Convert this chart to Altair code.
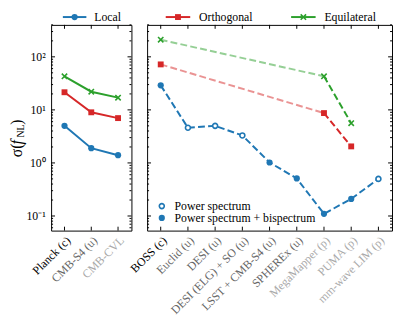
import altair as alt
import pandas as pd

# ---------------- data ----------------
types = ["Local", "Orthogonal", "Equilateral"]
colors = ["#1f77b4", "#d62728", "#2ca02c"]

left_surveys = ["Planck (c)", "CMB-S4 (u)", "CMB-CVL"]
left_local = [5.0, 1.9, 1.4]
left_orth = [21.5, 9.0, 7.0]
left_equil = [43.0, 22.0, 17.0]

right_surveys = ["BOSS (c)", "Euclid (u)", "DESI (u)", "DESI (ELG) + SO (u)",
                 "LSST + CMB-S4 (u)", "SPHEREx (u)", "MegaMapper (p)",
                 "PUMA (p)", "mm-wave LIM (p)"]
right_local = [29.0, 4.6, 5.0, 3.3, 1.02, 0.51, 0.11, 0.21, 0.5]
right_local_bispec = [True, False, False, False, True, True, True, True, False]

ng_surveys = ["BOSS (c)", "MegaMapper (p)", "PUMA (p)"]
right_orth = [72.0, 8.7, 2.05]
right_equil = [210.0, 43.0, 5.6]

y_major = [0.1, 1, 10, 100]
y_minor = [0.06, 0.07, 0.08, 0.09,
           0.2, 0.3, 0.4, 0.5, 0.6, 0.7, 0.8, 0.9,
           2, 3, 4, 5, 6, 7, 8, 9,
           20, 30, 40, 50, 60, 70, 80, 90,
           200, 300, 400]

top_legend_left = ["Local"]
top_legend_right = ["Orthogonal", "Equilateral"]
bottom_legend = ["Power spectrum", "Power spectrum + bispectrum"]
ylabel_parts = ["σ(", "f", "NL", ")"]

# ---------------- style ----------------
FONT = "Liberation Serif"
BLUE, RED, GREEN = colors
W1, W2, H = 82, 250, 210
XPATH = "M-1,-1L1,1M-1,1L1,-1"
DASH = [7, 3.3]

yscale = alt.Scale(type="log", domain=[0.053, 400])


def xscale(cats):
    return alt.Scale(type="point", domain=cats, padding=0.5)


label_color = {
    "condition": [
        {"test": "datum.label == 'CMB-CVL' || indexof(datum.label, '(p)') >= 0", "value": "#a9a9a9"},
        {"test": "indexof(datum.label, '(u)') >= 0", "value": "#666666"},
    ],
    "value": "#000000",
}

sup = ("datum.value >= 99 ? '10²' : datum.value >= 9 ? '10¹' : "
       "datum.value >= 0.9 ? '10⁰' : '10⁻¹'")

X_AXIS = alt.Axis(orient="bottom", ticks=False, domain=False, grid=False, title=None,
                  labelAngle=-45, labelAlign="right", labelBaseline="top",
                  labelFont=FONT, labelFontSize=12, labelColor=label_color,
                  labelPadding=4)


def xenc(cats):
    return alt.X("survey:N", scale=xscale(cats), axis=X_AXIS)


def yenc(labels):
    ax = alt.Axis(orient="left", values=y_major, ticks=False, domain=False, grid=False,
                  title=None, labels=labels, labelExpr=sup, labelFont=FONT,
                  labelFontSize=12, labelColor="black", labelPadding=6)
    return alt.Y("value:Q", scale=yscale, axis=ax)


def tick_layers(cats, W, labels):
    layers = []
    for vals, size in [(y_major, 4), (y_minor, 2)]:
        d = pd.DataFrame({"value": vals})
        layers.append(alt.Chart(d).mark_rule(color="black", strokeWidth=1).encode(
            y=yenc(labels), x=alt.value(0), x2=alt.value(size)))
        layers.append(alt.Chart(d).mark_rule(color="black", strokeWidth=1).encode(
            y=yenc(labels), x=alt.value(W - size), x2=alt.value(W)))
    d = pd.DataFrame({"survey": cats})
    layers.append(alt.Chart(d).mark_rule(color="black", strokeWidth=1).encode(
        x=xenc(cats), y=alt.value(H - 4), y2=alt.value(H)))
    layers.append(alt.Chart(d).mark_rule(color="black", strokeWidth=1).encode(
        x=xenc(cats), y=alt.value(0), y2=alt.value(4)))
    return layers


cenc = alt.Color("type:N", scale=alt.Scale(domain=types, range=colors), legend=None)

# ---------------- left panel ----------------
ldf = pd.DataFrame({
    "survey": left_surveys * 3,
    "idx": list(range(3)) * 3,
    "type": ["Local"] * 3 + ["Orthogonal"] * 3 + ["Equilateral"] * 3,
    "value": left_local + left_orth + left_equil,
})
LX, LY = xenc(left_surveys), yenc(True)

l_lines = alt.Chart(ldf).mark_line(strokeWidth=2).encode(
    x=LX, y=LY, color=cenc, order=alt.Order("idx:Q"))
l_circ = alt.Chart(ldf).transform_filter("datum.type == 'Local'").mark_point(
    shape="circle", filled=True, size=40, opacity=1, color=BLUE).encode(x=LX, y=LY)
l_sq = alt.Chart(ldf).transform_filter("datum.type == 'Orthogonal'").mark_point(
    shape="square", filled=True, size=36, opacity=1, color=RED).encode(x=LX, y=LY)
l_x = alt.Chart(ldf).transform_filter("datum.type == 'Equilateral'").mark_point(
    shape=XPATH, filled=False, size=30, strokeWidth=1.6, opacity=1, color=GREEN).encode(x=LX, y=LY)

LEG_Y = -8

# top legend (left)
leg_l_df = pd.DataFrame({"t": top_legend_left})
leg_l = [
    alt.Chart(leg_l_df).mark_rule(color=BLUE, strokeWidth=2).encode(
        x=alt.value(12), x2=alt.value(36), y=alt.value(LEG_Y)),
    alt.Chart(leg_l_df).mark_point(shape="circle", filled=True, size=40, opacity=1, color=BLUE).encode(
        x=alt.value(24), y=alt.value(LEG_Y)),
    alt.Chart(leg_l_df).mark_text(font=FONT, fontSize=12, align="left", baseline="middle", color="black").encode(
        text="t:N", x=alt.value(44), y=alt.value(LEG_Y)),
]

# y axis title pieces
ttl_df = pd.DataFrame({"t": ylabel_parts})


def ttl_piece(txt, x, y, size, style="normal"):
    return alt.Chart(ttl_df).transform_filter(f"datum.t == '{txt}'").mark_text(
        font=FONT, fontSize=size, fontStyle=style, angle=270, align="left",
        baseline="middle", color="black").encode(
        text="t:N", x=alt.value(x), y=alt.value(y))


TX = -35
ttl = [
    ttl_piece("σ(", TX, 135, 16),
    ttl_piece("f", TX, 122, 16, "italic"),
    ttl_piece("NL", TX + 4, 115, 10),
    ttl_piece(")", TX, 102, 16),
]

left = alt.layer(
    l_lines, *tick_layers(left_surveys, W1, True), l_circ, l_sq, l_x, *leg_l, *ttl
).properties(width=W1, height=H)

# ---------------- right panel ----------------
rdf = pd.DataFrame({
    "survey": right_surveys,
    "idx": list(range(len(right_surveys))),
    "value": right_local,
    "bispec": right_local_bispec,
})
ndf = pd.DataFrame({
    "survey": ng_surveys * 2,
    "idx": list(range(3)) * 2,
    "type": ["Orthogonal"] * 3 + ["Equilateral"] * 3,
    "value": right_orth + right_equil,
})
RX, RY = xenc(right_surveys), yenc(False)

r_faded = alt.Chart(ndf).transform_filter("datum.idx <= 1").mark_line(
    strokeWidth=2, strokeDash=DASH, opacity=0.5).encode(
    x=RX, y=RY, color=cenc, order=alt.Order("idx:Q"))
r_solid = alt.Chart(ndf).transform_filter("datum.idx >= 1").mark_line(
    strokeWidth=2, strokeDash=DASH).encode(
    x=RX, y=RY, color=cenc, order=alt.Order("idx:Q"))
r_sq = alt.Chart(ndf).transform_filter("datum.type == 'Orthogonal'").mark_point(
    shape="square", filled=True, size=36, opacity=1, color=RED).encode(x=RX, y=RY)
r_x = alt.Chart(ndf).transform_filter("datum.type == 'Equilateral'").mark_point(
    shape=XPATH, filled=False, size=30, strokeWidth=1.6, opacity=1, color=GREEN).encode(x=RX, y=RY)

r_line = alt.Chart(rdf).mark_line(strokeWidth=2, strokeDash=DASH, color=BLUE).encode(
    x=RX, y=RY, order=alt.Order("idx:Q"))
r_filled = alt.Chart(rdf).transform_filter("datum.bispec").mark_point(
    shape="circle", filled=True, size=40, opacity=1, color=BLUE).encode(x=RX, y=RY)
r_open = alt.Chart(rdf).transform_filter("!datum.bispec").mark_point(
    shape="circle", fill="white", fillOpacity=1, stroke=BLUE, strokeWidth=1.6,
    size=26, opacity=1).encode(x=RX, y=RY)

# top legend (right)
leg_r_df = pd.DataFrame({"t": top_legend_right})
leg_r = []
for name, col, shp, x0, filled in [("Orthogonal", RED, "square", 19, True),
                                    ("Equilateral", GREEN, XPATH, 147, False)]:
    d = alt.Chart(leg_r_df).transform_filter(f"datum.t == '{name}'")
    leg_r.append(d.mark_rule(color=col, strokeWidth=2).encode(
        x=alt.value(x0), x2=alt.value(x0 + 25), y=alt.value(LEG_Y)))
    if filled:
        leg_r.append(d.mark_point(shape=shp, filled=True, size=36, opacity=1, color=col).encode(
            x=alt.value(x0 + 12.5), y=alt.value(LEG_Y)))
    else:
        leg_r.append(d.mark_point(shape=shp, filled=False, size=30, strokeWidth=1.6, opacity=1, color=col).encode(
            x=alt.value(x0 + 12.5), y=alt.value(LEG_Y)))
    leg_r.append(d.mark_text(font=FONT, fontSize=12, align="left", baseline="middle", color="black").encode(
        text="t:N", x=alt.value(x0 + 34), y=alt.value(LEG_Y)))

# bottom legend (inside right panel)
bl_df = pd.DataFrame({"t": bottom_legend})
leg_b = [
    alt.Chart(bl_df).transform_filter("datum.t == 'Power spectrum'").mark_point(
        shape="circle", fill="white", fillOpacity=1, stroke=BLUE, strokeWidth=1.6, size=26, opacity=1).encode(
        x=alt.value(15), y=alt.value(185)),
    alt.Chart(bl_df).transform_filter("datum.t != 'Power spectrum'").mark_point(
        shape="circle", filled=True, size=40, opacity=1, color=BLUE).encode(
        x=alt.value(15), y=alt.value(197)),
    alt.Chart(bl_df).transform_filter("datum.t == 'Power spectrum'").mark_text(
        font=FONT, fontSize=12, align="left", baseline="middle", color="black").encode(
        text="t:N", x=alt.value(28), y=alt.value(185)),
    alt.Chart(bl_df).transform_filter("datum.t != 'Power spectrum'").mark_text(
        font=FONT, fontSize=12, align="left", baseline="middle", color="black").encode(
        text="t:N", x=alt.value(28), y=alt.value(197)),
]

right = alt.layer(
    r_faded, *tick_layers(right_surveys, W2, False), r_solid, r_line, r_filled, r_open,
    r_sq, r_x, *leg_r, *leg_b
).properties(width=W2, height=H)

chart = alt.hconcat(left, right, spacing=16, bounds="flush").properties(
    padding={"left": 0, "top": -1, "right": 0, "bottom": 0}
).configure_view(stroke="black", strokeWidth=1)

chart.save("out.html", embed_options={"renderer": "svg", "actions": False})
